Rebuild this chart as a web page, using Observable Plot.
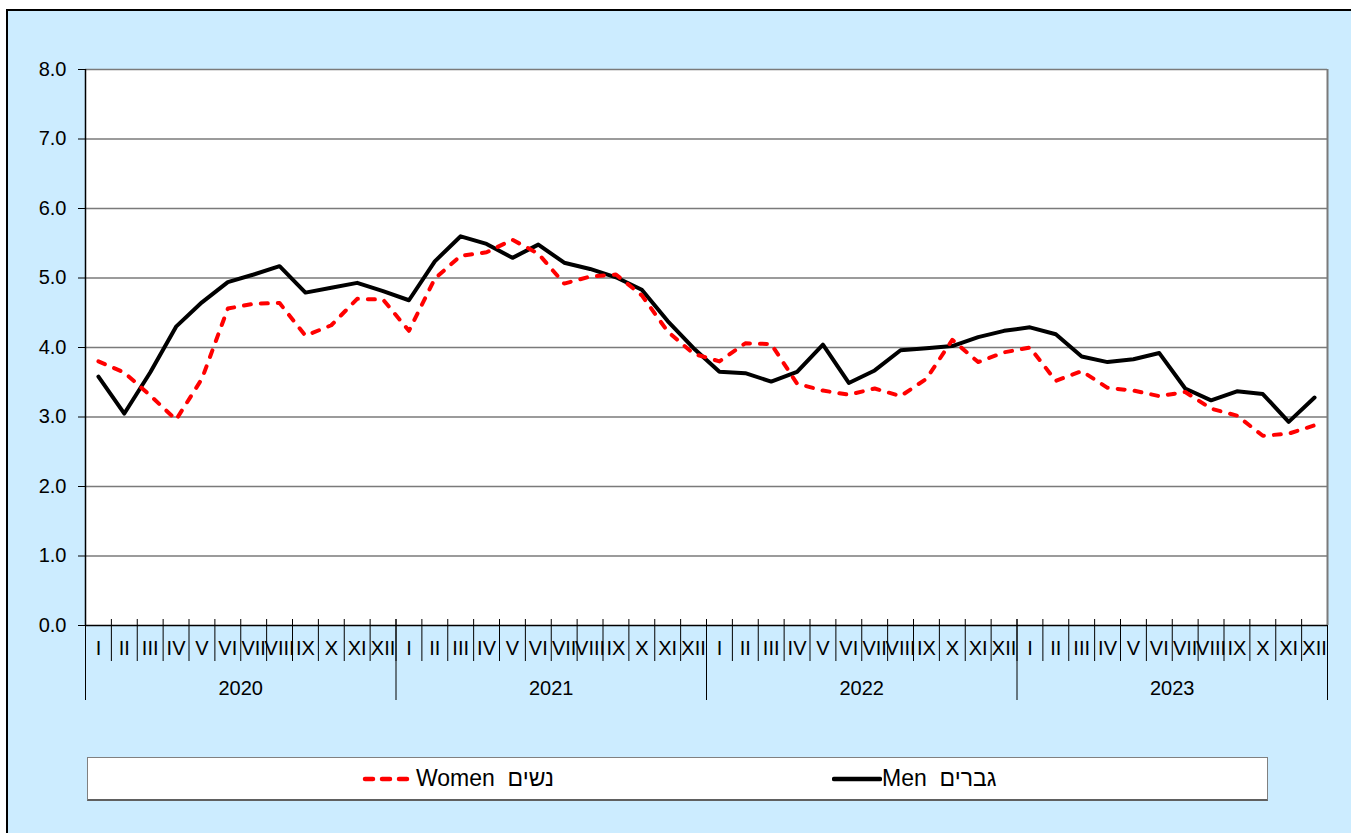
<!DOCTYPE html>
<html><head><meta charset="utf-8">
<script src="https://cdn.jsdelivr.net/npm/d3@7"></script>
<script src="https://cdn.jsdelivr.net/npm/@observablehq/plot@0.6"></script>
<style>
body{margin:0;overflow:hidden;background:#fff;font-family:"Liberation Sans",Arial,sans-serif;}
#frame{position:absolute;left:6px;top:9px;width:1400px;height:900px;border:2px solid #000;background:#CCECFF;}
#chart{position:absolute;left:0;top:0;}
#legend{position:absolute;left:79px;top:746px;width:1179px;height:41px;background:#fff;border:1px solid #808080;border-bottom:2px solid #606060;}
.item{position:absolute;top:0;height:41px;display:flex;align-items:center;font-size:23px;color:#000;white-space:pre;}
.item svg{display:block;}
</style></head>
<body>
<div id="frame">
  <div id="chart"></div>
  <div id="legend">
    <div class="item" style="left:274px"><svg width="54" height="10"><line x1="3" y1="5" x2="52" y2="5" stroke="#FF0000" stroke-width="4.5" stroke-dasharray="8,9" stroke-linecap="round"/></svg><span dir="ltr">Women  נשים</span></div>
    <div class="item" style="left:744px"><svg width="50" height="10"><line x1="2" y1="5" x2="48" y2="5" stroke="#000" stroke-width="4.5" stroke-linecap="round"/></svg><span dir="ltr">Men  גברים</span></div>
  </div>
</div>
<script>
const years = ["2020", "2021", "2022", "2023"];
const months = ["I","II","III","IV","V","VI","VII","VIII","IX","X","XI","XII"];
const men = [3.58, 3.05, 3.64, 4.30, 4.65, 4.94, 5.05, 5.17, 4.79, 4.86, 4.93, 4.81,
             4.68, 5.24, 5.60, 5.49, 5.29, 5.48, 5.22, 5.13, 5.01, 4.83, 4.38, 3.99,
             3.65, 3.63, 3.51, 3.65, 4.04, 3.49, 3.67, 3.96, 3.99, 4.02, 4.15, 4.24,
             4.29, 4.19, 3.87, 3.79, 3.83, 3.92, 3.41, 3.24, 3.37, 3.33, 2.93, 3.28];
const women = [3.80, 3.64, 3.31, 2.96, 3.55, 4.56, 4.63, 4.64, 4.17, 4.32, 4.70, 4.69,
               4.24, 4.99, 5.32, 5.37, 5.55, 5.35, 4.92, 5.02, 5.05, 4.75, 4.23, 3.91,
               3.80, 4.06, 4.05, 3.48, 3.38, 3.32, 3.41, 3.30, 3.55, 4.11, 3.79, 3.93,
               4.00, 3.52, 3.66, 3.42, 3.38, 3.30, 3.36, 3.12, 3.02, 2.73, 2.76, 2.88];
const yTicks = [0, 1, 2, 3, 4, 5, 6, 7, 8];

const rows = men.map((v, i) => ({i, pos: i + 0.5, men: v, women: women[i]}));
const n = rows.length;
const monthBounds = d3.range(n + 1);
const yearBounds = d3.range(0, n + 1, 12);
const yearCenters = years.map((y, k) => k * 12 + 6);

const chart = Plot.plot({
  width: 1343, height: 700,
  marginLeft: 77, marginRight: 24, marginTop: 58, marginBottom: 86,
  x: {domain: [0, n]},
  y: {domain: [0, 8]},
  style: {background: "transparent", fontFamily: "'Liberation Sans', Arial, sans-serif", fontSize: "20px", overflow: "visible", color: "#000"},
  marks: [
    Plot.frame({fill: "white", stroke: null}),
    Plot.ruleY(yTicks.slice(1), {stroke: "#7a7a7a", strokeWidth: 1.5}),
    Plot.axisX({ticks: monthBounds, tickSize: 42, dy: -6, tickFormat: () => "", stroke: "#000", strokeWidth: 1, label: null}),
    Plot.axisX({ticks: yearBounds, tickSize: 81, dy: -6, tickFormat: () => "", stroke: "#000", strokeWidth: 1, label: null}),
    Plot.ruleX([n], {stroke: "#7a7a7a", strokeWidth: 2}),
    Plot.axisX({ticks: rows.map(d => d.pos), tickSize: 0, tickPadding: 15, tickFormat: v => months[Math.floor(v) % 12], label: null, fontSize: 20}),
    Plot.axisX({ticks: yearCenters, tickSize: 0, tickPadding: 55, tickFormat: v => years[Math.floor(v / 12)], label: null, fontSize: 20}),
    Plot.axisY({ticks: yTicks, tickSize: 7, tickPadding: 12, tickFormat: d3.format(".1f"), label: null, fontSize: 20, stroke: "#000"}),
    Plot.ruleX([0], {stroke: "#000", strokeWidth: 1.5}),
    Plot.ruleY([0], {stroke: "#000", strokeWidth: 1.5}),
    Plot.line(rows, {x: "pos", y: "men", stroke: "#000", strokeWidth: 4}),
    Plot.line(rows, {x: "pos", y: "women", stroke: "#FF0000", strokeWidth: 4, strokeDasharray: "7,10", strokeLinecap: "round", strokeLinejoin: "round"})
  ]
});
document.getElementById("chart").appendChild(chart);
</script>
</body></html>
